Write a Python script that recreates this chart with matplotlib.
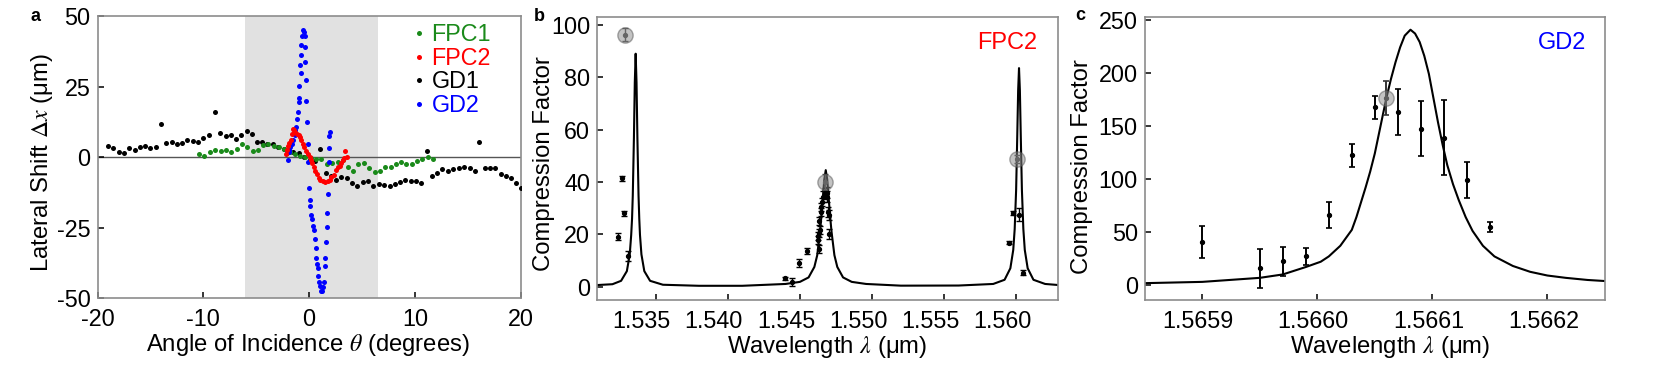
import numpy as np
import matplotlib
matplotlib.use('Agg')
import matplotlib.pyplot as plt
import matplotlib.transforms as mtransforms

plt.rcParams['font.family'] = ['Liberation Sans', 'DejaVu Sans']
plt.rcParams['mathtext.fontset'] = 'stix'
plt.rcParams['axes.unicode_minus'] = False

# ---------------- panel a : lateral shift vs angle ----------------
gd1_ang = [-19.0, -18.5, -18.0, -17.5, -17.0, -16.5, -16.0, -15.5, -15.0, -14.5,
           -14.0, -13.5, -13.0, -12.5, -12.0, -11.5, -11.0, -10.5, -10.0, -9.5,
           -8.9, -8.4, -7.9, -7.4, -6.9, -6.4, -5.9, -5.4, -4.95, -4.45,
           -3.95, -3.4, -2.9, -2.4, -1.95, -1.5, -1.0, -0.45, 0.08, 0.58,
           1.05, 1.55, 2.05, 2.54, 3.05, 3.55, 4.06, 4.56, 5.07, 5.58,
           6.08, 6.59, 7.1, 7.6, 8.1, 8.6, 9.1, 9.6, 10.1, 10.6,
           11.1, 11.6, 12.1, 12.6, 13.1, 13.6, 14.15, 14.65, 15.2, 15.7,
           16.1, 16.6, 17.1, 17.6, 18.1, 18.6, 19.1, 19.6, 20.0]
gd1_shift = [4.1, 3.5, 1.8, 1.6, 3.5, 2.8, 3.7, 4.0, 3.5, 3.6,
             11.8, 5.1, 5.5, 4.9, 5.0, 6.3, 5.8, 5.3, 6.9, 7.9,
             16.2, 8.8, 7.7, 8.1, 6.6, 7.9, 9.2, 8.3, 5.6, 5.4,
             4.9, 4.8, 3.7, 2.9, 2.3, 2.0, 1.4, 0.0, -0.9, -1.4,
             2.9, -5.4, -6.6, -8.0, -7.0, -7.4, -8.9, -10.3, -8.6, -8.3,
             -10.1, -9.4, -9.8, -10.3, -9.5, -8.6, -8.0, -8.2, -8.2, -9.2,
             2.3, -6.6, -5.4, -4.1, -4.7, -4.1, -3.6, -3.3, -3.9, -4.8,
             5.6, -3.9, -3.9, -3.9, -5.9, -6.6, -7.4, -8.9, -10.9]

fpc1_ang = [-10.4, -9.9, -9.4, -8.85, -8.35, -7.85, -7.35, -6.85, -6.35, -5.85,
            -5.35, -4.85, -4.35, -3.85, -3.35, -2.85, -2.35, -1.85, -1.35, -0.85,
            -0.35, 0.15, 0.65, 1.15, 1.65, 2.15, 2.7, 3.17, 3.65, 4.16,
            4.66, 5.16, 5.67, 6.18, 6.68, 7.2, 7.7, 8.2, 8.7, 9.2,
            9.7, 10.2, 10.7, 11.2, 11.7]
fpc1_shift = [1.2, 0.6, 1.8, 2.5, 2.2, 2.5, 1.9, 2.9, 4.6, 3.8,
              2.1, 2.7, 4.5, 4.7, 4.1, 3.7, 2.9, 2.0, 1.2, 0.5,
              0.2, -0.3, -0.5, -0.7, -2.2, -2.1, -1.8, -1.0, -3.3, -4.7,
              -2.4, -2.1, -3.9, -5.2, -4.9, -3.3, -3.3, -2.4, -1.8, -2.4,
              -2.5, -1.3, -0.4, 0.2, -0.6]

gd2_ang = [-2.05, -1.95, -1.9, -1.86, -1.76, -1.63, -1.48, -1.38, -1.29, -1.22,
           -1.13, -1.07, -1.0, -0.97, -0.91, -0.88, -0.81, -0.75, -0.72, -0.65,
           -0.56, -0.5, -0.43, -0.40, -0.37, -0.31, -0.27, -0.21, -0.15, -0.12,
           0.01, 0.04, 0.11, 0.2, 0.3, 0.36, 0.45, 0.55, 0.61, 0.68,
           0.77, 0.83, 0.87, 0.93, 0.99, 1.09, 1.18, 1.28, 1.37, 1.47,
           1.53, 1.62, 1.66, 1.72, 1.75, 1.85, 1.91, 1.91, 1.97]
gd2_shift = [1.5, -0.9, 2.5, 2.0, 3.8, 4.9, 6.1, 7.8, 9.8, 10.8,
             13.7, 16.0, 19.6, 21.1, 25.2, 32.7, 36.3, 30.0, 39.8, 43.0,
             45.3, 44.5, 43.0, 39.2, 34.0, 27.5, 20.1, 12.5, 4.9, -1.5,
             -10.9, -15.0, -17.3, -20.3, -22.0, -24.4, -25.8, -29.0, -32.0, -35.5,
             -37.8, -39.3, -41.9, -44.3, -45.7, -47.5, -47.5, -46.0, -44.3, -38.4,
             -35.8, -30.0, -24.6, -19.7, -12.9, -1.5, 3.5, 7.5, 8.9]

fpc2_ang = [-2.2, -2.05, -1.95, -1.86, -1.73, -1.64, -1.54, -1.41, -1.29, -1.16,
            -1.0, -0.84, -0.75, -0.59, -0.47, -0.28, -0.15, 0.04, 0.17, 0.27,
            0.42, 0.58, 0.74, 0.89, 1.05, 1.31, 1.53, 1.75, 1.94, 2.1,
            2.32, 2.57, 2.7, 2.89, 3.02, 3.2, 3.33, 3.43, 3.59]
fpc2_shift = [1.05, 2.6, 4.1, 5.1, 6.3, 8.4, 10.2, 9.6, 9.0, 8.4,
              7.8, 7.2, 6.1, 4.9, 3.7, 2.3, 1.2, 0.0, -0.95, -2.1,
              -3.3, -4.7, -5.9, -7.4, -8.0, -8.2, -8.6, -8.2, -8.0, -7.0,
              -6.2, -4.5, -3.3, -2.9, -1.9, -0.95, -0.1, 2.3, 0.2]

# ---------------- panel b : FPC2 compression factor ----------------
lam_b_fit = [1.5310, 1.5320, 1.5326, 1.5330, 1.5332, 1.5333, 1.53336, 1.53341, 1.53349, 1.53355,
             1.53361, 1.53367, 1.53373, 1.53381, 1.53386, 1.53391, 1.53401, 1.53421, 1.53461, 1.5355,
             1.5380, 1.5410, 1.5440, 1.5450, 1.5456, 1.5460, 1.5462, 1.54639, 1.54649, 1.54659,
             1.54669, 1.54679, 1.54689, 1.54699, 1.54709, 1.54719, 1.54739, 1.54759, 1.54799, 1.54859,
             1.54959, 1.5520, 1.5560, 1.5584, 1.55919, 1.55959, 1.55979, 1.55989, 1.55999, 1.56007,
             1.56013, 1.56019, 1.56025, 1.56031, 1.56039, 1.56049, 1.56059, 1.56079, 1.56119, 1.5620,
             1.5629]
cf_b_fit = [0.6, 0.9, 2.2, 5.9, 12.3, 19.7, 26.0, 34.7, 57.0, 78.0,
            89.0, 78.0, 57.0, 34.7, 26.0, 19.7, 12.3, 5.9, 2.2, 0.7,
            0.3, 0.3, 1.0, 1.8, 3.5, 7.5, 12.0, 21.0, 27.0, 34.0,
            41.0, 44.5, 41.0, 34.0, 27.0, 21.0, 12.0, 7.5, 3.5, 1.8,
            1.0, 0.35, 0.4, 1.0, 2.6, 7.0, 14.0, 22.0, 37.0, 58.0,
            75.0, 83.5, 75.0, 58.0, 37.0, 22.0, 14.0, 7.0, 2.6, 1.0,
            0.6]

lam_b = [1.53264, 1.53278, 1.53241, 1.53310,
         1.54397, 1.54445, 1.54496, 1.54547, 1.54630, 1.54628, 1.54626, 1.54633, 1.54637, 1.54635,
         1.54644, 1.54649, 1.54653, 1.54662, 1.54674, 1.54686, 1.54690, 1.54695, 1.54700, 1.54704,
         1.55950, 1.55976, 1.56022, 1.56050]
cf_b = [41.4, 28.0, 19.1, 11.7,
        3.2, 1.7, 8.9, 13.7, 14.3, 17.8, 19.4, 20.6, 21.6, 25.1,
        28.6, 30.5, 32.4, 34.4, 35.6, 35.9, 34.4, 28.6, 27.3, 20.1,
        16.8, 28.0, 27.4, 5.3]
err_b = [1.0, 1.0, 1.2, 2.0,
         0.6, 1.5, 1.5, 1.2, 1.5, 1.5, 1.5, 1.5, 1.5, 1.5,
         1.5, 1.5, 1.5, 2.0, 2.0, 2.0, 2.0, 2.0, 2.0, 2.0,
         0.6, 0.8, 2.5, 1.0]
lam_b_hi = [1.53287, 1.54676, 1.56006]
cf_b_hi = [96.2, 40.1, 48.7]
err_b_hi = [2.5, 3.0, 1.5]

# ---------------- panel c : GD2 compression factor ----------------
lam_c_fit = [1.56585, 1.56590, 1.56595, 1.56597, 1.56599, 1.566003, 1.56601, 1.56602, 1.56603, 1.566034,
             1.566038, 1.566042, 1.566046, 1.56605, 1.566055, 1.56606, 1.566064, 1.566068, 1.566072, 1.566076,
             1.566081, 1.566085, 1.566089, 1.566093, 1.566097, 1.566101, 1.566105, 1.566109, 1.566113, 1.566118,
             1.566123, 1.566129, 1.566135, 1.566144, 1.566154, 1.56617, 1.566185, 1.5662, 1.566216, 1.566235,
             1.56625]
cf_c_fit = [1.8, 3.0, 6.8, 10.0, 17.0, 22.0, 27.0, 37.0, 52.0, 64.0,
            78.0, 92.0, 107.0, 124.0, 150.0, 176.0, 194.0, 210.0, 224.0, 235.0,
            240.6, 237.0, 229.0, 216.0, 199.0, 176.0, 153.0, 132.0, 113.0, 95.0,
            80.0, 64.0, 51.0, 37.0, 27.0, 18.0, 12.5, 9.0, 6.8, 4.8,
            3.8]

lam_c = [1.56590, 1.56595, 1.56597, 1.56599, 1.56601, 1.56603, 1.56605,
         1.56607, 1.56609, 1.56611, 1.56613, 1.56615]
cf_c = [40.7, 15.7, 22.6, 27.3, 65.8, 122.2, 167.6, 163.0, 147.2, 138.8, 99.3, 54.8]
err_c = [15.0, 18.0, 13.6, 8.0, 12.0, 11.0, 11.0, 21.5, 26.0, 35.5, 17.0, 5.0]
lam_c_hi = [1.56606]
cf_c_hi = [176.0]
err_c_hi = [16.0]

FS = 16.8     # tick labels
FL = 17.2     # axis labels
SPINE = '#8c8c8c'

fig = plt.figure(figsize=(16.61, 3.68), dpi=100)


def style(ax):
    for s in ax.spines.values():
        s.set_color(SPINE)
        s.set_linewidth(1.2)
    ax.tick_params(direction='in', length=4.5, width=1.1, color='black',
                   labelsize=FS, top=False, right=False)
    ax.tick_params(axis='y', pad=5)
    ax.tick_params(axis='x', pad=7)


def place_labels(ax, xx, yy):
    # centre both axis labels on the given axes coordinates
    ax.xaxis.set_label_coords(xx[0], xx[1])
    ax.yaxis.set_label_coords(yy[0], yy[1])
    ax.xaxis.label.set_va('center')
    ax.yaxis.label.set_va('center')


# ---- a ----
axa = fig.add_axes([0.0587, 0.189, 0.2548, 0.768])
axa.axvspan(-6.1, 6.5, color='#e1e1e1', lw=0, zorder=0)
axa.axhline(0, color='#555555', lw=1.0, zorder=1)
axa.plot(gd1_ang, gd1_shift, 'o', ms=3.6, color='black', mec='none', label='GD1', zorder=3)
axa.plot(fpc1_ang, fpc1_shift, 'o', ms=3.6, color='#1a8a1a', mec='none', label='FPC1', zorder=3)
axa.plot(gd2_ang, gd2_shift, 'o', ms=3.6, color='#0000ff', mec='none', label='GD2', zorder=4)
axa.plot(fpc2_ang, fpc2_shift, 'o', ms=3.6, color='#ff0000', mec='none', label='FPC2', zorder=5)
axa.set_xlim(-20, 20)
axa.set_ylim(-49.5, 50.2)
axa.set_xticks([-20, -10, 0, 10, 20])
axa.set_yticks([-50, -25, 0, 25, 50])
style(axa)
axa.set_xlabel(r'Angle of Incidence $\theta$ (degrees)', fontsize=FL)
axa.set_ylabel(r'Lateral Shift $\Delta x$ (μm)', fontsize=FL)
place_labels(axa, (0.497, -0.165), (-0.131, 0.48))
h, l = axa.get_legend_handles_labels()
order = [1, 3, 0, 2]
leg = axa.legend([h[i] for i in order], [l[i] for i in order], loc='center right',
                 bbox_to_anchor=(0.93, 0.808), frameon=False, fontsize=16.8,
                 handlelength=0.4, handletextpad=0.35, labelspacing=0.02,
                 borderaxespad=0.0, borderpad=0.0, markerscale=1.0,
                 labelcolor=['#1a8a1a', '#ff0000', 'black', '#0000ff'])

# ---- b ----
axb = fig.add_axes([0.3596, 0.185, 0.2776, 0.770])
axb.plot(lam_b_fit, cf_b_fit, color='black', lw=1.5, zorder=2)
axb.errorbar(lam_b, cf_b, yerr=err_b, fmt='o', ms=2.8, color='black',
             elinewidth=1.0, capsize=2, capthick=1.0, zorder=3)
axb.errorbar(lam_b_hi, cf_b_hi, yerr=err_b_hi, fmt='o', ms=2.8, color='#444444',
             elinewidth=1.0, capsize=2, capthick=1.0, zorder=3)
axb.plot(lam_b_hi, cf_b_hi, 'o', ms=11, color='#888888', alpha=0.5, mec='#555555', zorder=4)
axb.set_xlim(1.53095, 1.56292)
axb.set_ylim(-5.1, 103.2)
axb.set_xticks([1.535, 1.540, 1.545, 1.550, 1.555, 1.560])
axb.set_xticklabels(['1.535', '1.540', '1.545', '1.550', '1.555', '1.560'])
axb.set_yticks([0, 20, 40, 60, 80, 100])
style(axb)
axb.set_xlabel(r'Wavelength $\lambda$ (μm)', fontsize=FL)
axb.set_ylabel('Compression Factor', fontsize=FL)
place_labels(axb, (0.498, -0.165), (-0.116, 0.48))
axb.text(0.889, 0.905, 'FPC2', color='#ff0000', fontsize=17,
         transform=axb.transAxes, ha='center', va='center')
shift = mtransforms.ScaledTranslation(-14 / 100, 0, fig.dpi_scale_trans)
for lab in axb.get_xticklabels():
    lab.set_transform(lab.get_transform() + shift)

# ---- c ----
axc = fig.add_axes([0.6892, 0.185, 0.2770, 0.770])
axc.plot(lam_c_fit, cf_c_fit, color='black', lw=1.5, zorder=2)
axc.errorbar(lam_c, cf_c, yerr=err_c, fmt='o', ms=2.8, color='black',
             elinewidth=1.4, capsize=2.5, capthick=1.2, zorder=3)
axc.errorbar(lam_c_hi, cf_c_hi, yerr=err_c_hi, fmt='o', ms=2.8, color='#333333',
             elinewidth=1.4, capsize=2.5, capthick=1.2, zorder=3)
axc.plot(lam_c_hi, cf_c_hi, 'o', ms=11, color='#888888', alpha=0.5, mec='#555555', zorder=4)
axc.set_xlim(1.56585, 1.56625)
axc.set_ylim(-14, 253)
axc.set_xticks([1.5659, 1.5660, 1.5661, 1.5662])
axc.set_xticklabels(['1.5659', '1.5660', '1.5661', '1.5662'])
axc.set_yticks([0, 50, 100, 150, 200, 250])
style(axc)
axc.set_xlabel(r'Wavelength $\lambda$ (μm)', fontsize=FL)
axc.set_ylabel('Compression Factor', fontsize=FL)
place_labels(axc, (0.533, -0.165), (-0.136, 0.47))
axc.text(0.907, 0.906, 'GD2', color='#0000ff', fontsize=17,
         transform=axc.transAxes, ha='center', va='center')
shift_c = mtransforms.ScaledTranslation(-4 / 100, 0, fig.dpi_scale_trans)
for lab in axc.get_xticklabels():
    lab.set_transform(lab.get_transform() + shift_c)

# panel letters
fig.text(0.0215, 0.955, 'a', fontsize=13, fontweight='bold', ha='center', va='center')
fig.text(0.3245, 0.955, 'b', fontsize=13, fontweight='bold', ha='center', va='center')
fig.text(0.6502, 0.958, 'c', fontsize=13, fontweight='bold', ha='center', va='center')

fig.savefig('out.png', dpi=100)
